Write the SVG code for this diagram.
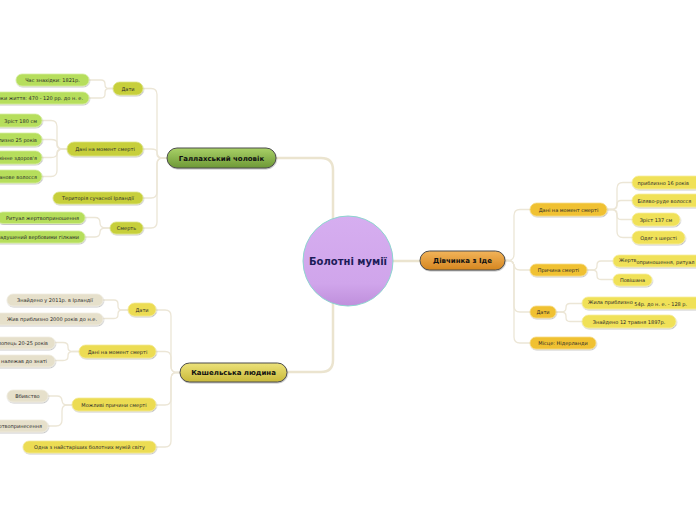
<svg xmlns="http://www.w3.org/2000/svg" width="696" height="520" viewBox="0 0 696 520">
<defs>
<linearGradient id="gCenter" x1="0" y1="0" x2="0" y2="1"><stop offset="0" stop-color="#d6aef0"/><stop offset="0.75" stop-color="#d0a5eb"/><stop offset="1" stop-color="#bf8fdc"/></linearGradient>
<linearGradient id="gGreen" x1="0" y1="0" x2="0" y2="1"><stop offset="0" stop-color="#a9d167"/><stop offset="1" stop-color="#6d9836"/></linearGradient>
<linearGradient id="gYellow" x1="0" y1="0" x2="0" y2="1"><stop offset="0" stop-color="#ece27a"/><stop offset="1" stop-color="#c9b93a"/></linearGradient>
<linearGradient id="gOrange" x1="0" y1="0" x2="0" y2="1"><stop offset="0" stop-color="#f2b45a"/><stop offset="1" stop-color="#d5861f"/></linearGradient>
<filter id="sh" x="-10%" y="-30%" width="120%" height="170%"><feDropShadow dx="0.5" dy="1" stdDeviation="0.6" flood-color="#000" flood-opacity="0.25"/></filter>
</defs>
<style>
.c1{fill:none;stroke:#ebe4cf;stroke-width:2.5;stroke-linecap:round}
.c2{fill:none;stroke:#ece6d6;stroke-width:1.3;stroke-linecap:round}
.main{stroke:#4d4d4d;stroke-width:1;filter:url(#sh)}
.mt{font-family:"DejaVu Sans",Verdana,sans-serif;font-weight:bold;font-size:7px;fill:#111;text-anchor:middle}
.t{font-family:"DejaVu Sans",Verdana,sans-serif;font-size:5px;fill:#2a2a2a}
.m{text-anchor:middle}
.e{text-anchor:end}
.gs{fill:#c7cf3a;stroke:#dde58a;stroke-width:0.8;filter:url(#sh)}
.gl{fill:#b6de5c;stroke:#d6eea0;stroke-width:0.8;filter:url(#sh)}
.ks{fill:#ecdc52;stroke:#f4ea98;stroke-width:0.8;filter:url(#sh)}
.kl{fill:#e6e0cb;stroke:#f0ece0;stroke-width:0.8;filter:url(#sh)}
.rs{fill:#f0c131;stroke:#f6dc88;stroke-width:0.8;filter:url(#sh)}
.rl{fill:#f0e158;stroke:#f6eea0;stroke-width:0.8;filter:url(#sh)}
</style>
<g id="connectors">
<path class="c1" d="M277,158 H321 Q333,158 333,170 V360 Q333,372 321,372 H287"/>
<path class="c1" d="M393,261 H420"/>
<path class="c2" d="M167,158 H163 Q157,158 157,152 V94.5 Q157,88.5 151,88.5 H143"/>
<path class="c2" d="M167,158 H163 Q157,158 157,155 V152 Q157,149 151,149 H143"/>
<path class="c2" d="M167,158 H163 Q157,158 157,164 V192 Q157,198 151,198 H143"/>
<path class="c2" d="M167,158 H163 Q157,158 157,164 V222 Q157,228 151,228 H143"/>
<path class="c2" d="M113,88.5 H109 Q105,88.5 105,84.5 V84 Q105,80 101,80 H89"/>
<path class="c2" d="M113,88.5 H109 Q105,88.5 105,92.5 V94 Q105,98 101,98 H89"/>
<path class="c2" d="M67,149 H63 Q57,149 57,143 V126.5 Q57,120.5 51,120.5 H42"/>
<path class="c2" d="M67,149 H63 Q57,149 57,145.5 V143 Q57,139.5 51,139.5 H42"/>
<path class="c2" d="M67,149 H63 Q57,149 57,153 V153.5 Q57,157.5 51,157.5 H42"/>
<path class="c2" d="M67,149 H63 Q57,149 57,155 V170.5 Q57,176.5 51,176.5 H42"/>
<path class="c2" d="M110,228 H106 Q100,228 100,223 V222.5 Q100,217.5 95,217.5 H85"/>
<path class="c2" d="M110,228 H106 Q100,228 100,232 V232 Q100,237 95,237 H85"/>
<path class="c2" d="M180,372.5 H177 Q171,372.5 171,366.5 V316 Q171,310 165,310 H156"/>
<path class="c2" d="M180,372.5 H177 Q171,372.5 171,366.5 V357.5 Q171,351.5 165,351.5 H156"/>
<path class="c2" d="M180,372.5 H177 Q171,372.5 171,378.5 V399 Q171,405 165,405 H156"/>
<path class="c2" d="M180,372.5 H177 Q171,372.5 171,378.5 V441 Q171,447 165,447 H156"/>
<path class="c2" d="M128,310 H122 Q118,310 118,306 V304 Q118,300 114,300 H103"/>
<path class="c2" d="M128,310 H122 Q118,310 118,314 V314.5 Q118,318.5 114,318.5 H103"/>
<path class="c2" d="M79,351.5 H73 Q68,351.5 68,347.5 V346.5 Q68,342.5 63,342.5 H55"/>
<path class="c2" d="M79,351.5 H73 Q68,351.5 68,355.5 V356.5 Q68,360.5 63,360.5 H55"/>
<path class="c2" d="M72,405 H67 Q62,405 62,400 V401 Q62,396 57,396 H48"/>
<path class="c2" d="M72,405 H67 Q62,405 62,411 V420 Q62,426 56,426 H48"/>
<path class="c2" d="M505,260.5 H508 Q514,260.5 514,254.5 V215.5 Q514,209.5 520,209.5 H530"/>
<path class="c2" d="M505,260.5 H508 Q514,260.5 514,266.5 V264 Q514,270 520,270 H530"/>
<path class="c2" d="M505,260.5 H508 Q514,260.5 514,266.5 V306 Q514,312 520,312 H530"/>
<path class="c2" d="M505,260.5 H508 Q514,260.5 514,266.5 V337 Q514,343 520,343 H530"/>
<path class="c2" d="M607,209.5 H611 Q617,209.5 617,203.5 V188.5 Q617,182.5 623,182.5 H632"/>
<path class="c2" d="M607,209.5 H611 Q617,209.5 617,205.5 V204.5 Q617,200.5 621,200.5 H632"/>
<path class="c2" d="M607,209.5 H611 Q617,209.5 617,213.5 V215.5 Q617,219.5 621,219.5 H632"/>
<path class="c2" d="M607,209.5 H611 Q617,209.5 617,215.5 V231.5 Q617,237.5 623,237.5 H632"/>
<path class="c2" d="M587,270 H592 Q597,270 597,266 V265 Q597,261 601,261 H613"/>
<path class="c2" d="M587,270 H592 Q597,270 597,274 V275.5 Q597,279.5 601,279.5 H613"/>
<path class="c2" d="M556,312 H561 Q566,312 566,308 V307.5 Q566,303.5 570,303.5 H582"/>
<path class="c2" d="M556,312 H561 Q566,312 566,316 V317.5 Q566,321.5 570,321.5 H582"/>
</g>
<g id="center">
<circle cx="348" cy="261" r="45" fill="url(#gCenter)" stroke="#8dd5cf" stroke-width="1"/>
<text x="348" y="264.5" font-family="DejaVu Sans, Verdana, sans-serif" font-weight="bold" font-size="10" fill="#1c1c58" text-anchor="middle">Болотні мумії</text>
</g>
<g id="gallagh">
<rect class="main" x="167" y="148" width="109" height="20" rx="10" fill="url(#gGreen)"/>
<text class="mt" x="221.5" y="160.5">Галлахський чоловік</text>
</g>
<g id="g-dates"><rect class="gs" x="113" y="82" width="30" height="13" rx="6.5"/><text class="t m" x="128" y="90.5">Дати</text></g>
<g id="g-find"><rect class="gl" x="16" y="74" width="73" height="12" rx="6"/><text class="t m" x="52.5" y="81.8">Час знахідки: 1821р.</text></g>
<g id="g-life"><rect class="gl" x="-40" y="92" width="129" height="12" rx="6"/><text class="t e" x="83" y="99.8">Роки життя: 470 - 120 рр. до н. е.</text></g>
<g id="g-data"><rect class="gs" x="67" y="142" width="76" height="14" rx="7"/><text class="t m" x="105" y="150.8">Дані на момент смерті</text></g>
<g id="g-height"><rect class="gl" x="-20" y="114" width="62" height="13" rx="6.5"/><text class="t e" x="37" y="122.5">Зріст 180 см</text></g>
<g id="g-age"><rect class="gl" x="-40" y="133" width="82" height="13" rx="6.5"/><text class="t e" x="37" y="141.5">Приблизно 25 років</text></g>
<g id="g-health"><rect class="gl" x="-40" y="151" width="82" height="13" rx="6.5"/><text class="t e" x="37" y="159.5">Відмінне здоров'я</text></g>
<g id="g-hair"><rect class="gl" x="-40" y="170" width="82" height="13" rx="6.5"/><text class="t e" x="37" y="178.5">Каштанове волосся</text></g>
<g id="g-terr"><rect class="gs" x="53" y="192" width="90" height="12" rx="6"/><text class="t m" x="98" y="199.8">Територія сучасної Ірландії</text></g>
<g id="g-death"><rect class="gs" x="110" y="222" width="33" height="12" rx="6"/><text class="t m" x="126.5" y="229.8">Смерть</text></g>
<g id="g-ritual"><rect class="gl" x="-3" y="212" width="88" height="11.5" rx="5.75"/><text class="t e" x="79" y="219.6">Ритуал жертвоприношення</text></g>
<g id="g-strangled"><rect class="gl" x="-30" y="231" width="115" height="12" rx="6"/><text class="t e" x="79" y="238.8">Задушений вербовими гілками</text></g>
<g id="cashel">
<rect class="main" x="180" y="363" width="107" height="19" rx="9.5" fill="url(#gYellow)"/>
<text class="mt" x="233.5" y="375">Кашельська людина</text>
</g>
<g id="k-dates"><rect class="ks" x="128" y="303" width="28" height="13" rx="6.5"/><text class="t m" x="142" y="311.5">Дати</text></g>
<g id="k-found"><rect class="kl" x="7" y="294" width="96" height="12" rx="6"/><text class="t m" x="55" y="301.8">Знайдено у 2011р. в Ірландії</text></g>
<g id="k-lived"><rect class="kl" x="-20" y="313" width="123" height="12" rx="6"/><text class="t e" x="97" y="320.8">Жив приблизно 2000 років до н.е.</text></g>
<g id="k-data"><rect class="ks" x="79" y="345" width="77" height="13" rx="6.5"/><text class="t m" x="117.5" y="353.5">Дані на момент смерті</text></g>
<g id="k-age"><rect class="kl" x="-30" y="337" width="85" height="12" rx="6"/><text class="t e" x="48" y="344.8">Хлопець 20-25 років</text></g>
<g id="k-noble"><rect class="kl" x="-40" y="355" width="95" height="12" rx="6"/><text class="t e" x="47" y="362.8">Імовірно належав до знаті</text></g>
<g id="k-causes"><rect class="ks" x="72" y="398" width="84" height="13" rx="6.5"/><text class="t m" x="114" y="406.5">Можливі причини смерті</text></g>
<g id="k-murder"><rect class="kl" x="7" y="390" width="41" height="12" rx="6"/><text class="t m" x="27.5" y="397.8">Вбивство</text></g>
<g id="k-sacrifice"><rect class="kl" x="-20" y="420" width="68" height="12" rx="6"/><text class="t e" x="42" y="427.8">Жертвопринесення</text></g>
<g id="k-oldest"><rect class="ks" x="23" y="441" width="133" height="12" rx="6"/><text class="t m" x="89.5" y="448.8">Одна з найстаріших болотних мумій світу</text></g>
<g id="yde">
<rect class="main" x="420" y="251" width="85" height="19" rx="9.5" fill="url(#gOrange)"/>
<text class="mt" x="462.5" y="263">Дівчинка з  Іде</text>
</g>
<g id="y-data"><rect class="rs" x="530" y="203" width="77" height="13" rx="6.5"/><text class="t m" x="568.5" y="211.5">Дані на момент смерті</text></g>
<g id="y-age"><rect class="rl" x="632" y="176" width="70" height="13" rx="6.5"/><text class="t" x="637.5" y="184.5">приблизно 16 років</text></g>
<g id="y-hair"><rect class="rl" x="632" y="194" width="80" height="13" rx="6.5"/><text class="t" x="637.5" y="202.5">Біляво-руде волосся</text></g>
<g id="y-height"><rect class="rl" x="632" y="213" width="48" height="13" rx="6.5"/><text class="t m" x="656" y="221.5">Зріст 137 см</text></g>
<g id="y-cloth"><rect class="rl" x="632" y="231" width="53" height="13" rx="6.5"/><text class="t m" x="658.5" y="239.5">Одяг з шерсті</text></g>
<g id="y-cause"><rect class="rs" x="530" y="264" width="57" height="12" rx="6"/><text class="t m" x="558.5" y="271.8">Причина смерті</text></g>
<g id="y-sacr"><rect class="rl" x="613" y="255" width="90" height="12" rx="6"/><text class="t" x="619" y="262">Жертв<tspan dy="1.5">оприношення, ритуал</tspan></text></g>
<g id="y-hanged"><rect class="rl" x="613" y="274" width="39" height="12" rx="6"/><text class="t m" x="632.5" y="281.8">Повішана</text></g>
<g id="y-dates"><rect class="rs" x="530" y="306" width="26" height="12" rx="6"/><text class="t m" x="543" y="313.8">Дати</text></g>
<g id="y-lived"><rect class="rl" x="582" y="297" width="120" height="12" rx="6"/><text class="t" x="588" y="304">Жила приблизно <tspan dy="1.5">54р. до н. е. - 128 р.</tspan></text></g>
<g id="y-found"><rect class="rl" x="582" y="315" width="94" height="13" rx="6.5"/><text class="t m" x="629" y="323.5">Знайдено 12 травня 1897р.</text></g>
<g id="y-place"><rect class="rs" x="530" y="337" width="66" height="12" rx="6"/><text class="t m" x="563" y="344.8">Місце: Нідерланди</text></g>
</svg>
